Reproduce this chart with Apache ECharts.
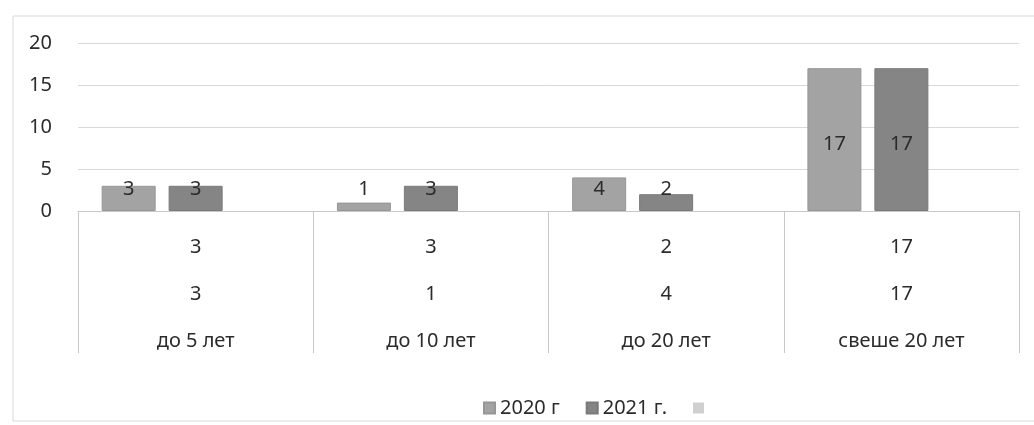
<!DOCTYPE html>
<html><head><meta charset="utf-8">
<script src="https://cdn.jsdelivr.net/npm/echarts@6/dist/echarts.min.js"></script>
<style>html,body{margin:0;padding:0;background:#fff}#c{width:1034px;height:425px}</style>
</head><body><div id="c"></div>
<script>
const categories = ['до 5 лет','до 10 лет','до 20 лет','свеше 20 лет'];
const seriesNames = ['2020 г','2021 г.',' '];
const values2020 = [3,1,4,17];
const values2021 = [3,3,2,17];
const yTicks = [0,5,10,15,20];

const FONT = '"Noto Sans", sans-serif';
const TXT = '#2b2b2b';

function items(arr){
  return arr.map(v => ({
    value: v,
    label: v >= 10 ? {position:'inside', offset:[0,5]} : {position:'insideBottom', distance:12}
  }));
}

const chart = echarts.init(document.getElementById('c'));
chart.setOption({
  animation:false,
  textStyle:{fontFamily:FONT},
  graphic:[{type:'rect', shape:{x:13,y:16,width:1030,height:405}, style:{fill:'none', stroke:'#d8d8d8', lineWidth:1}, silent:true}],
  grid:{left:78, right:15, top:43, bottom:214},
  legend:{
    data:seriesNames, top:393, left:478,
    icon:'rect', itemWidth:11, itemHeight:11, itemGap:26,
    textStyle:{fontSize:20, color:TXT, fontFamily:FONT}
  },
  xAxis:{
    type:'category', data:categories,
    axisLine:{show:true, lineStyle:{color:'#c8c8c8'}},
    axisTick:{show:true, length:142, lineStyle:{color:'#c8c8c8'}},
    axisLabel:{
      margin:13, color:TXT, fontSize:20, lineHeight:47, fontFamily:FONT,
      formatter:(v, i) => values2021[i] + '\n' + values2020[i] + '\n' + v
    }
  },
  yAxis:{
    type:'value', min:yTicks[0], max:yTicks[yTicks.length-1], interval:5,
    axisLine:{show:false}, axisTick:{show:false},
    axisLabel:{margin:26, color:TXT, fontSize:20, fontFamily:FONT},
    splitLine:{lineStyle:{color:'#d9d9d9'}}
  },
  series:[
    {name:seriesNames[0], type:'bar', data:items(values2020), barWidth:54, barGap:'24%',
     itemStyle:{color:'#a3a3a3', borderColor:'#969696', borderWidth:1},
     label:{show:true, color:TXT, fontSize:20, fontFamily:FONT}},
    {name:seriesNames[1], type:'bar', data:items(values2021), barWidth:54, barGap:'24%',
     itemStyle:{color:'#858585', borderColor:'#7a7a7a', borderWidth:1},
     label:{show:true, color:TXT, fontSize:20, fontFamily:FONT}},
    {name:seriesNames[2], type:'bar', data:categories.map(()=>null), barWidth:54, barGap:'24%',
     itemStyle:{color:'#d0d0d0'}}
  ]
});
</script></body></html>
